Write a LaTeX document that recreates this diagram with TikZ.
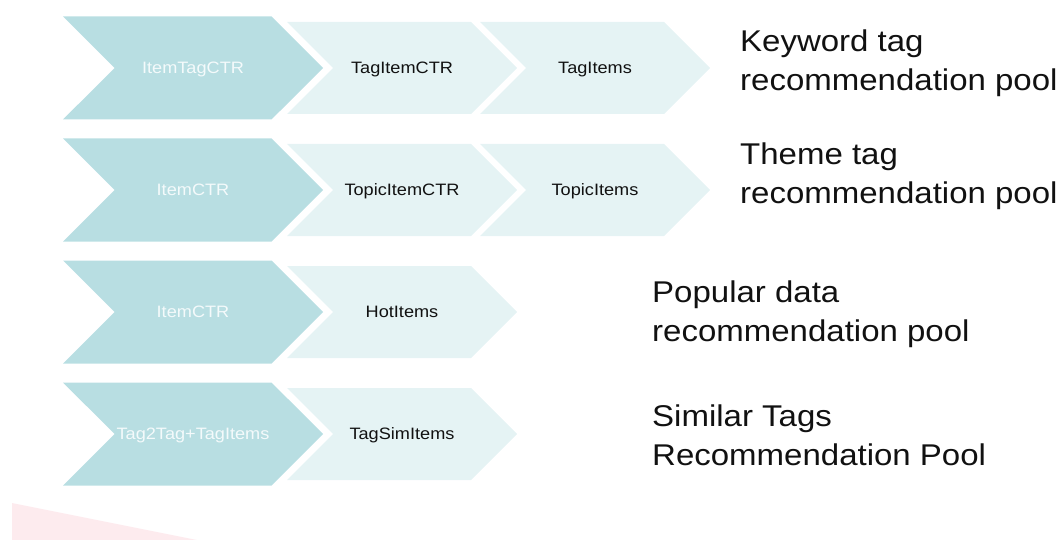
\documentclass[tikz,border=0pt]{standalone}
\usepackage{fontspec}
\setmainfont{Liberation Sans}[FakeStretch=1.1]
\usepackage{tikz}
\usetikzlibrary{shapes.symbols, positioning}
\definecolor{ChevronDark}{HTML}{B8DEE2}
\definecolor{ChevronLight}{HTML}{E5F3F4}
\definecolor{PoolPink}{HTML}{FDEBEE}
\definecolor{LabelInk}{HTML}{111111}
\tikzset{
  % Chevron styles
  stagechevron/.style={signal, signal to=east, signal from=west, fill=ChevronDark, minimum width=260pt, minimum height=103pt, inner sep=0pt, text height=11.8pt, text depth=0pt, font=\fontsize{16.5}{19}\selectfont, text=white!85!ChevronDark},
  stepchevron/.style={signal, signal to=east, signal from=west, fill=ChevronLight, minimum width=230pt, minimum height=92pt, inner sep=0pt, text height=11.8pt, text depth=0pt, font=\fontsize{16.5}{19}\selectfont, text=LabelInk},
  % Label style
  poollabel/.style={anchor=base west, align=left, inner sep=0pt, font=\fontsize{30}{39}\selectfont, text=LabelInk}
}

\begin{document}
\begin{tikzpicture}[x=1pt, y=-1pt]
  \useasboundingbox (0,0) rectangle (1060,540);
  % Pink corner
  \fill[PoolPink] (12,503) -- (197,540) -- (12,540) -- cycle;

  % Keyword tag row
  \node[stagechevron] (kwctr) at (193,68) {ItemTagCTR};
  \node[stepchevron] (kwtagctr) at (402,68) {TagItemCTR};
  \node[stepchevron] (kwitems) at (595,68) {TagItems};
  \node[poollabel] (kwpool) at (740,91) {Keyword tag\\recommendation pool};

  % Theme tag row
  \node[stagechevron] (thctr) at (193,190) {ItemCTR};
  \node[stepchevron] (thtopicctr) at (402,190) {TopicItemCTR};
  \node[stepchevron] (thitems) at (595,190) {TopicItems};
  \node[poollabel] (thpool) at (740,204) {Theme tag\\recommendation pool};

  % Popular data row
  \node[stagechevron] (hotctr) at (193,312) {ItemCTR};
  \node[stepchevron] (hotitems) at (402,312) {HotItems};
  \node[poollabel] (hotpool) at (652,341) {Popular data\\recommendation pool};

  % Similar tags row
  \node[stagechevron] (simtags) at (193,434) {Tag2Tag+TagItems};
  \node[stepchevron] (simitems) at (402,434) {TagSimItems};
  \node[poollabel] (simpool) at (652,465) {Similar Tags\\Recommendation Pool};
\end{tikzpicture}
\end{document}
